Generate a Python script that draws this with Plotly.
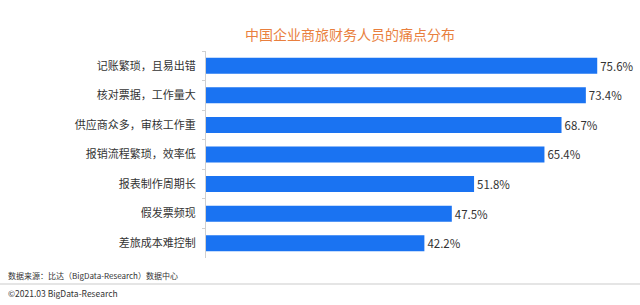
import plotly.graph_objects as go

categories = ["记账繁琐，且易出错", "核对票据，工作量大", "供应商众多，审核工作重",
              "报销流程繁琐，效率低", "报表制作周期长", "假发票频现", "差旅成本难控制"]
values = [75.6, 73.4, 68.7, 65.4, 51.8, 47.5, 42.2]
value_labels = [f"{v}%" for v in values]

title_text = "中国企业商旅财务人员的痛点分布"
source_text = "数据来源：比达（BigData-Research）数据中心"
copyright_text = "©2021.03 BigData-Research"

font_family = "Noto Sans CJK SC, Noto Sans, sans-serif"

fig = go.Figure(go.Bar(
    x=values, y=categories, orientation="h",
    marker=dict(color="#1a73f2", line=dict(width=0)),
    text=value_labels, textposition="outside", cliponaxis=False,
    textfont=dict(size=11.5, color="#333333", family=font_family),
))

fig.update_layout(
    width=640, height=305,
    margin=dict(l=206, r=20, t=51, b=47),
    paper_bgcolor="white", plot_bgcolor="white",
    bargap=0.46,
    showlegend=False,
    font=dict(family=font_family),
    xaxis=dict(range=[0, 80], visible=False),
    yaxis=dict(autorange="reversed", showline=True, linecolor="#d0d0d0", linewidth=1,
               ticks="outside", tickson="boundaries", ticklen=3, tickcolor="#d0d0d0",
               tickfont=dict(size=11, color="#333333", family=font_family),
               showgrid=False, ticklabelstandoff=7),
    annotations=[
        dict(text=title_text, x=350, y=34, showarrow=False,
             font=dict(size=14, color="#e97f3e", family=font_family)),
        dict(text=source_text, x=6, y=275, showarrow=False, xanchor="left",
             font=dict(size=8, color="#333333", family=font_family)),
        dict(text=copyright_text, x=6, y=293, showarrow=False, xanchor="left",
             font=dict(size=8.5, color="#333333", family=font_family)),
    ],
)

# convert annotation pixel coords to paper coords
pw = 640 - 206 - 20
ph = 305 - 51 - 47
for a in fig.layout.annotations:
    px, py = a.x, a.y
    a.xref = "paper"
    a.yref = "paper"
    a.x = (px - 206) / pw
    a.y = 1 - (py - 51) / ph
    a.yanchor = "middle"

fig.add_shape(type="line", xref="paper", yref="paper",
              x0=(0 - 206) / pw, x1=(640 - 206) / pw,
              y0=1 - (284 - 51) / ph, y1=1 - (284 - 51) / ph,
              line=dict(color="#dddddd", width=1.5))

fig.write_html("out.html")
